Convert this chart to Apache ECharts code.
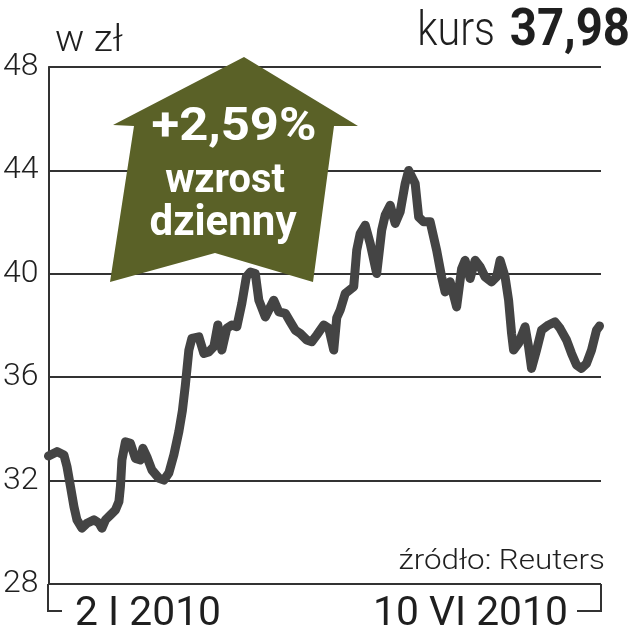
<!DOCTYPE html>
<html><head><meta charset="utf-8">
<script src="https://cdn.jsdelivr.net/npm/echarts@6/dist/echarts.min.js"></script>
<style>html,body{margin:0;padding:0;background:#fff}#c{width:633px;height:640px}</style>
</head><body><div id="c"></div>
<script>
// trading-day index (approx.) and closing price, 2 I 2010 – 10 VI 2010
const days = [0,1.7,3.1,3.7,4.4,5.1,5.7,6.7,7.7,9.1,10.1,10.7,11.4,12.4,13.4,14.1,14.4,14.7,15.4,16.4,17.4,18.4,18.9,19.7,20.7,22.1,23.1,24.1,25.1,26.1,26.8,27.4,28.1,28.7,30.1,31.1,32.1,33.1,33.9,34.7,35.7,36.7,37.7,38.7,39.6,40.4,41.4,42.1,43.4,44.4,45.1,46.1,47.4,48.4,49.4,50.4,51.7,52.7,53.7,55.1,56.1,57.1,57.7,58.4,59.4,61.1,61.7,62.4,63.4,64.4,65.7,66.7,67.4,68.4,69.4,70.4,71.4,72.1,73.4,74.1,75.1,76.4,77.7,78.7,79.4,80.4,81.7,82.7,83.4,84.4,85.4,86.4,87.4,88.7,89.7,90.4,91.4,92.1,92.7,93.1,94.1,95.4,96.1,96.7,97.7,98.7,100.1,101.4,102.4,103.7,104.7,105.7,106.7,107.7,108.7,109.7,110.3];
const prices = [32.95,33.12,32.99,32.54,31.77,30.99,30.48,30.16,30.35,30.48,30.36,30.16,30.48,30.67,30.86,31.19,31.77,32.8,33.5,33.44,32.86,32.8,33.25,32.92,32.41,32.09,32.02,32.3,33.0,33.9,34.7,35.7,37.05,37.5,37.56,36.92,36.98,37.18,38.02,37.05,37.89,38.02,37.95,38.85,39.88,40.07,40.01,38.98,38.33,38.72,38.98,38.53,38.47,38.14,37.82,37.69,37.44,37.37,37.63,38.02,37.89,37.05,38.3,38.6,39.24,39.5,40.91,41.56,41.88,41.17,40.01,41.69,42.27,42.65,41.95,42.4,43.49,44.0,43.49,42.2,42.01,42.01,40.91,39.88,39.3,39.69,38.72,40.2,40.52,39.82,40.52,40.27,39.88,39.69,39.88,40.52,39.88,38.98,37.69,37.05,37.31,37.95,37.18,36.34,37.05,37.82,38.02,38.14,37.89,37.44,36.92,36.47,36.34,36.53,37.05,37.82,37.98];
const yMin = 28, yMax = 48, yStep = 4;
const xTickLabels = ['2 I 2010', '10 VI 2010'];
const unitLabel = 'w zł';
const lastPriceLabel = 'kurs';
const lastPriceText = '37,98';
const changeLines = ['+2,59%', 'wzrost', 'dzienny'];
const sourceLabel = 'źródło: Reuters';

const FONT = 'Roboto, "Noto Sans", sans-serif';
const INK = '#1f1f1f';
const GRID = '#333333';
const OLIVE = '#5a6127';

const chart = echarts.init(document.getElementById('c'), null, {renderer: 'canvas'});

function txt(text, x, y, size, weight, align, fill, sx) {
  return {
    type: 'text', x: x, y: y, z: 10, scaleX: sx || 1,
    style: {text: text, fontSize: size, fontWeight: weight, fontFamily: FONT,
            fill: fill || INK, align: align, verticalAlign: 'middle'}
  };
}

chart.setOption({
  animation: false,
  backgroundColor: '#ffffff',
  grid: {left: 48, right: 32, top: 67, bottom: 56, containLabel: false},
  xAxis: {
    type: 'value', min: 0, max: 110.6,
    axisLine: {show: false}, axisTick: {show: false},
    axisLabel: {show: false}, splitLine: {show: false}
  },
  yAxis: {
    type: 'value', min: yMin, max: yMax, interval: yStep,
    axisLine: {show: true, lineStyle: {color: GRID, width: 2}},
    axisTick: {show: false},
    splitLine: {show: true, lineStyle: {color: GRID, width: 2}},
    axisLabel: {color: INK, fontFamily: FONT, fontWeight: 300, fontSize: 32, margin: 10}
  },
  series: [{
    type: 'line', z: 5,
    data: days.map((d, i) => [d, prices[i]]),
    showSymbol: false, symbol: 'none',
    lineStyle: {color: '#444444', width: 9, join: 'round', cap: 'round'}
  }],
  graphic: [
    {type: 'polyline', z: 3, shape: {points: [[48, 584], [48, 611], [62, 611]]},
     style: {stroke: GRID, lineWidth: 2, fill: null}},
    {type: 'polyline', z: 3, shape: {points: [[577, 611], [601, 611], [601, 584]]},
     style: {stroke: GRID, lineWidth: 2, fill: null}},
    {type: 'polygon', z: 3,
     shape: {points: [[244, 57], [358, 126], [334, 126], [313, 282], [215, 253], [110, 282], [134, 126], [113, 125]]},
     style: {fill: OLIVE}},
    txt(changeLines[0], 234, 128, 47, 'bold', 'center', '#ffffff', 1.08),
    txt(changeLines[1], 225, 182, 41, 'bold', 'center', '#ffffff', 0.97),
    txt(changeLines[2], 223, 224, 42, 'bold', 'center', '#ffffff', 1.0),
    txt(unitLabel, 55, 42, 36, 300, 'left', INK, 1.08),
    txt(lastPriceLabel, 495, 33, 48, 300, 'right', INK, 0.86),
    txt(lastPriceText, 630, 32, 52, 'bold', 'right', INK, 0.91),
    txt(xTickLabels[0], 75, 615, 40, 'normal', 'left', INK, 1.02),
    txt(xTickLabels[1], 373, 615, 40, 'normal', 'left', INK, 1.02),
    txt(sourceLabel, 605, 562, 28, 300, 'right', INK, 1.12)
  ]
});
</script></body></html>
